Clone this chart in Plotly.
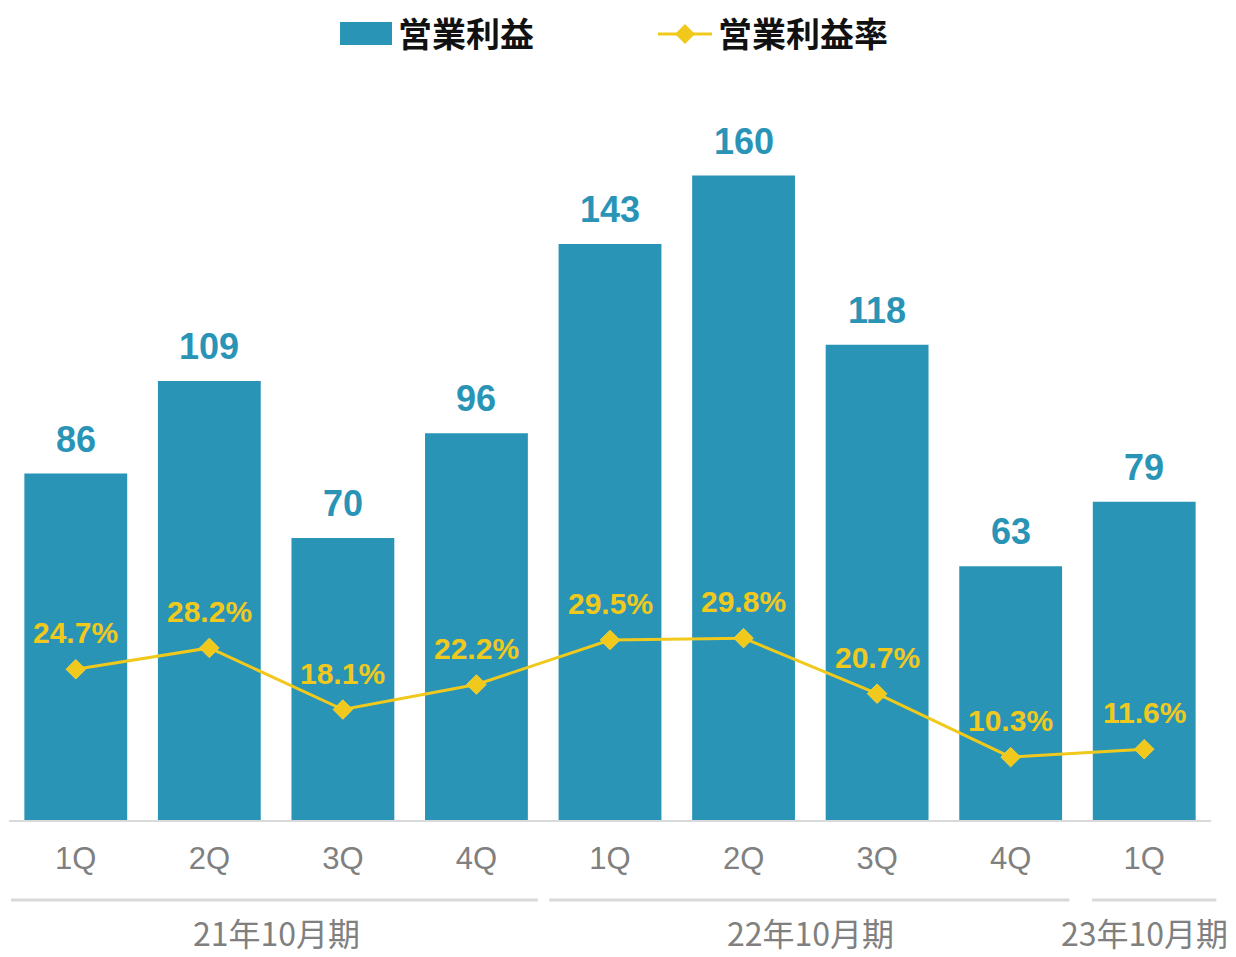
import plotly.graph_objects as go

quarters = ["1Q", "2Q", "3Q", "4Q", "1Q", "2Q", "3Q", "4Q", "1Q"]
profit = [86, 109, 70, 96, 143, 160, 118, 63, 79]
margin_pct = [24.7, 28.2, 18.1, 22.2, 29.5, 29.8, 20.7, 10.3, 11.6]
groups = ["21年10月期", "22年10月期", "23年10月期"]
group_sizes = [4, 4, 1]
series_names = ["営業利益", "営業利益率"]

BLUE = "#2994B6"
YELLOW = "#F0C91C"
GRAY = "#808080"
LINEGRAY = "#D9D9D9"
W, H = 1236, 957
ML, MR, MT, MB = 9, 25, 95, 137

x = list(range(len(quarters)))
fig = go.Figure()
fig.add_trace(go.Bar(x=x, y=profit, marker=dict(color=BLUE, line=dict(width=0)),
                     name=series_names[0], showlegend=False, hoverinfo="skip"))
fig.add_trace(go.Scatter(x=x, y=margin_pct, yaxis="y2", mode="lines+markers",
                         line=dict(color=YELLOW, width=3),
                         marker=dict(symbol="diamond", size=15, color=YELLOW,
                                     line=dict(color="#F5D233", width=1)),
                         name=series_names[1], showlegend=False, hoverinfo="skip"))

ann = []
for i, v in enumerate(profit):
    ann.append(dict(x=i, y=v, xref="x", yref="y", text=str(v), showarrow=False,
                    yanchor="bottom", yshift=12,
                    font=dict(family="Liberation Sans, Arial", size=36, color=BLUE, weight="bold")))
for i, v in enumerate(margin_pct):
    ann.append(dict(x=i, y=v, xref="x", yref="y2", text=f"{v:.1f}%", showarrow=False,
                    yanchor="bottom", yshift=18,
                    font=dict(family="Liberation Sans, Arial", size=30, color=YELLOW, weight="bold")))

pw = W - ML - MR
ph = H - MT - MB
n = len(quarters)
def px2paperx(p):
    return (p - ML) / pw
def idx2paperx(v):
    return (v + 0.5) / n
def py2papery(p):
    return (H - MB - p) / ph

shapes = []
start = 0
gaps = [(0.015, 0.04), (0.045, 0.06), (0.11, -0.04)]
for gi, (g, s) in enumerate(zip(groups, group_sizes)):
    x0 = idx2paperx(start - 0.5) + gaps[gi][0] / n
    x1 = idx2paperx(start + s - 0.5) - gaps[gi][1] / n
    shapes.append(dict(type="line", xref="paper", yref="paper", x0=x0, x1=x1,
                       y0=py2papery(900), y1=py2papery(900),
                       line=dict(color=LINEGRAY, width=3)))
    center = start + (s - 1) / 2
    ann.append(dict(x=idx2paperx(center), y=py2papery(932), xref="paper", yref="paper",
                    text=g, showarrow=False, xanchor="center", yanchor="middle",
                    font=dict(family="Noto Sans CJK JP", size=32, color=GRAY)))
    start += s

# manual legend
ly = py2papery(33)
shapes.append(dict(type="rect", xref="paper", yref="paper",
                   x0=px2paperx(340), x1=px2paperx(392),
                   y0=py2papery(45), y1=py2papery(22),
                   fillcolor=BLUE, line=dict(width=0)))
ann.append(dict(x=px2paperx(396), y=ly, xref="paper", yref="paper", text=series_names[0],
                showarrow=False, xanchor="left", yanchor="middle",
                font=dict(family="Noto Sans CJK JP", size=34, color="#111111", weight="bold")))
shapes.append(dict(type="line", xref="paper", yref="paper",
                   x0=px2paperx(658), x1=px2paperx(712), y0=py2papery(34), y1=py2papery(34),
                   line=dict(color=YELLOW, width=3)))
cx, cy, r = 685, 34, 10
shapes.append(dict(type="path", xref="paper", yref="paper",
                   path=f"M {px2paperx(cx - r)} {py2papery(cy)} L {px2paperx(cx)} {py2papery(cy - r)} "
                        f"L {px2paperx(cx + r)} {py2papery(cy)} L {px2paperx(cx)} {py2papery(cy + r)} Z",
                   fillcolor=YELLOW, line=dict(width=0)))
ann.append(dict(x=px2paperx(716), y=ly, xref="paper", yref="paper", text=series_names[1],
                showarrow=False, xanchor="left", yanchor="middle",
                font=dict(family="Noto Sans CJK JP", size=34, color="#111111", weight="bold")))

fig.update_layout(
    width=W, height=H,
    margin=dict(l=ML, r=MR, t=MT, b=MB),
    paper_bgcolor="white", plot_bgcolor="white",
    bargap=0.23,
    xaxis=dict(tickvals=x, ticktext=quarters, range=[-0.5, n - 0.5],
               showline=True, linecolor=LINEGRAY, linewidth=2, showgrid=False,
               zeroline=False, ticks="", ticklabelstandoff=10,
               tickfont=dict(family="Liberation Sans, Arial", size=31, color=GRAY)),
    yaxis=dict(range=[0, 180], visible=False, showgrid=False, zeroline=False),
    yaxis2=dict(range=[0, 118.8], overlaying="y", visible=False, showgrid=False, zeroline=False),
    annotations=ann, shapes=shapes,
    showlegend=False,
)
fig.write_html("out.html")
